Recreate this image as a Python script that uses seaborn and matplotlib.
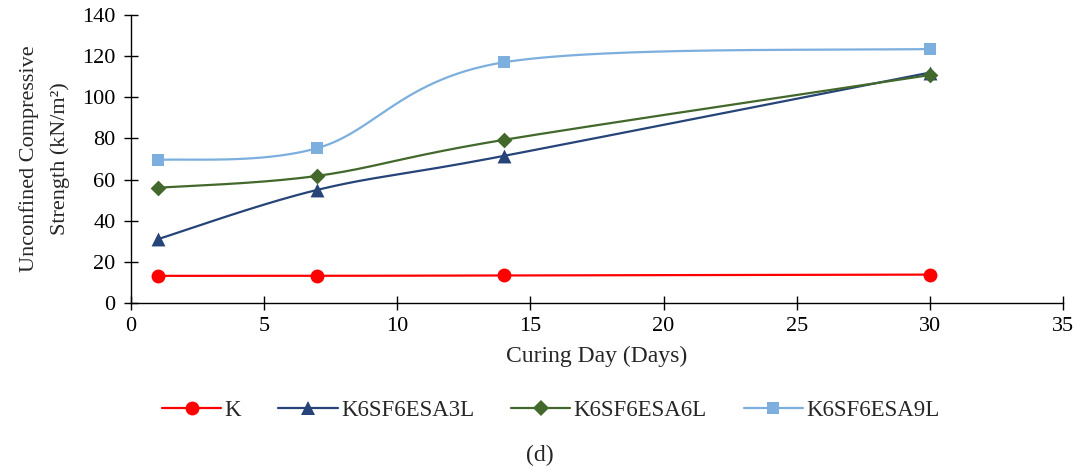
import numpy as np
import pandas as pd
import matplotlib
matplotlib.use("Agg")
import matplotlib.pyplot as plt
from matplotlib.lines import Line2D
import seaborn as sns

# Curing days and unconfined compressive strength (kN/m2)
days = [1, 7, 14, 30]
series_names = ["K", "K6SF6ESA3L", "K6SF6ESA6L", "K6SF6ESA9L"]
ucs_k = [13.2, 13.2, 13.4, 13.8]
ucs_3l = [31.0, 55.0, 71.5, 112.0]
ucs_6l = [56.0, 61.8, 79.3, 110.8]
ucs_9l = [69.5, 75.3, 117.0, 123.5]

colors = ["#FF0000", "#264478", "#43682B", "#7CAFDD"]
markers = ["o", "^", "D", "s"]
marker_sizes = [10, 10, 8, 9]

x_ticks = [0, 5, 10, 15, 20, 25, 30, 35]
y_ticks = [0, 20, 40, 60, 80, 100, 120, 140]


def smooth_curve(xs, ys, n=60):
    """Bezier smoothing through points (spreadsheet-style smoothed line)."""
    pts = np.column_stack([xs, ys]).astype(float)
    padded = np.vstack([pts[0], pts, pts[-1]])
    out = []
    t = np.linspace(0, 1, n)[:, None]
    for i in range(len(pts) - 1):
        p0, p1, p2, p3 = padded[i], padded[i + 1], padded[i + 2], padded[i + 3]
        c1 = p1 + (p2 - p0) / 6.0
        c2 = p2 - (p3 - p1) / 6.0
        seg = ((1 - t) ** 3) * p1 + 3 * ((1 - t) ** 2) * t * c1 + 3 * (1 - t) * t ** 2 * c2 + t ** 3 * p2
        out.append(seg if i == 0 else seg[1:])
    arr = np.vstack(out)
    return arr[:, 0], arr[:, 1]


sns.set_theme(style="white")
plt.rcParams["font.family"] = ["Liberation Serif", "DejaVu Serif"]

fig = plt.figure(figsize=(10.8, 4.73), dpi=100)
ax = fig.add_axes([131 / 1080, 1 - 303 / 473, (1063 - 131) / 1080, (303 - 15) / 473])

all_values = [ucs_k, ucs_3l, ucs_6l, ucs_9l]
for name, vals, col, mk, ms in zip(series_names, all_values, colors, markers, marker_sizes):
    sx, sy = smooth_curve(days, vals)
    curve = pd.DataFrame({"day": sx, "ucs": sy})
    sns.lineplot(data=curve, x="day", y="ucs", ax=ax, color=col, linewidth=1.6,
                 sort=False, estimator=None, zorder=2)
    pts = pd.DataFrame({"day": days, "ucs": vals})
    sns.scatterplot(data=pts, x="day", y="ucs", ax=ax, color=col, marker=mk,
                    s=ms ** 2, edgecolor=col, linewidth=0, zorder=3)

ax.set_xlim(0, 35)
ax.set_ylim(0, 140)
ax.set_xticks(x_ticks)
ax.set_yticks(y_ticks)
ax.tick_params(axis="both", direction="inout", length=10, width=1, colors="black",
               labelsize=16, bottom=True, left=True)
ax.tick_params(axis="y", pad=6)
ax.tick_params(axis="x", pad=5)
for side in ["top", "right"]:
    ax.spines[side].set_visible(False)
for side in ["left", "bottom"]:
    ax.spines[side].set_color("black")
    ax.spines[side].set_linewidth(1)

ax.set_xlabel("Curing Day (Days)", fontsize=17, labelpad=7)
ax.set_ylabel("Unconfined Compressive\nStrength (kN/m²)", fontsize=16, labelpad=9,
              linespacing=1.75)

handles = [Line2D([0], [0], color=c, marker=m, markersize=ms, linewidth=1.6,
                  markeredgewidth=0)
           for c, m, ms in zip(colors, markers, marker_sizes)]
fig.legend(handles, series_names, loc="center", bbox_to_anchor=(0.51, 1 - 410 / 473),
           ncol=4, frameon=False, fontsize=16.5, handlelength=2.6, handletextpad=0.15,
           columnspacing=1.6)

fig.text(0.5, 1 - 455 / 473, "(d)", ha="center", va="center", fontsize=17)

fig.savefig("out.png", dpi=100)
